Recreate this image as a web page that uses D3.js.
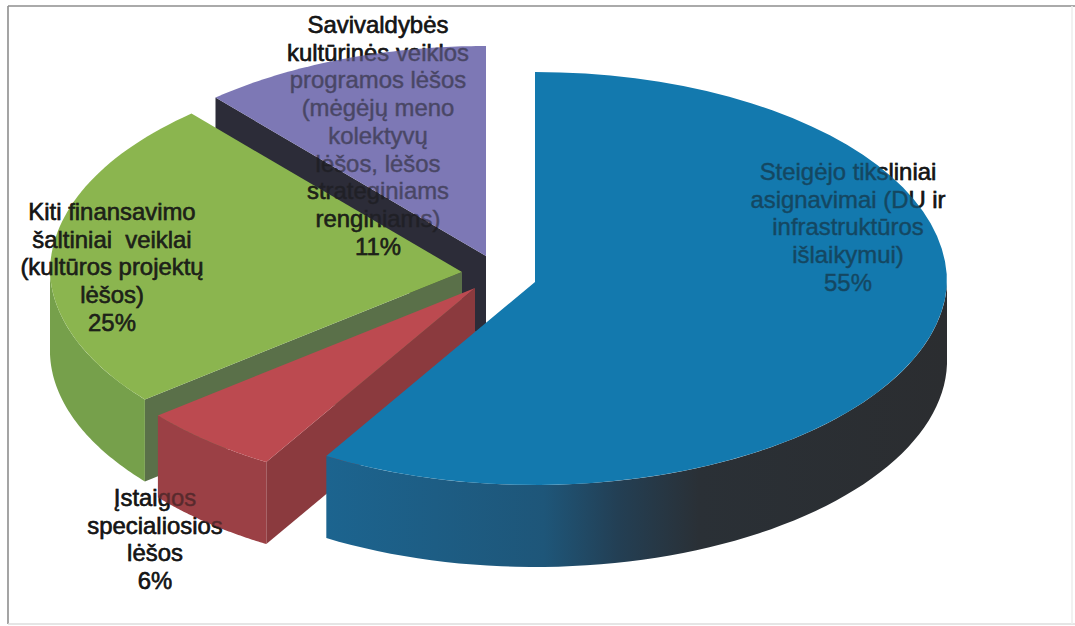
<!DOCTYPE html>
<html>
<head>
<meta charset="utf-8">
<script src="https://cdnjs.cloudflare.com/ajax/libs/d3/7.8.5/d3.min.js"></script>
<style>
  html, body { margin: 0; padding: 0; background: #fff; }
  svg { display: block; }
  text { font-family: "Liberation Sans", Arial, sans-serif; font-size: 23.9px; fill: #161616; stroke: #161616; stroke-width: .45px; text-anchor: middle; }
</style>
</head>
<body>
<svg id="pie" width="1075" height="626"></svg>
<script>
// Slice sizes as measured from the drawn pie. The printed labels add up to 97,
// the picture does not, so the printed text is kept apart in percentLabels
const categories = ["steigejo", "istaigos", "kiti", "savivaldybes"];
const sliceShares = [58.6, 5.6, 24.4, 11.4];
const percentLabels = ["55%", "6%", "25%", "11%"];
const labelLines = [
  ["Steigėjo tiksliniai", "asignavimai (DU ir", "infrastruktūros", "išlaikymui)"],
  ["Įstaigos", "specialiosios", "lėšos"],
  ["Kiti finansavimo", "šaltiniai  veiklai", "(kultūros projektų", "lėšos)"],
  ["Savivaldybės", "kultūrinės veiklos", "programos lėšos", "(mėgėjų meno", "kolektyvų", "lėšos, lėšos", "strateginiams", "renginiams)"]
];

// Colors and layout per slice
const topColors = ["#1379ae", "#bc4a50", "#8bb64f", "#7d78b5"];
const rimColors = ["url(#blueRim)", "#9b4045", "#76a04b", "#2c2c38"];
const cutColors = ["#1c648f", "#8b3a3e", "#5a7049", "#2c2c38"];
const apexX = [535, 475, 462, 486];
const apexY = [282, 288, 272, 256];
const labelX = [848, 155, 112, 378];
const labelY = [180, 506, 220, 33];
const lineStep = 27.7;

const rx = 412, ryBack = 210, ryFront = 203, depth = 82;

const svg = d3.select("#pie");
const width = +svg.attr("width");
const height = +svg.attr("height");

// Frame of the scanned page
const frame = svg.append("g").attr("fill", "none");
frame.append("line").attr("x1", 8).attr("x2", width).attr("y1", 6).attr("y2", 6).attr("stroke", "#8e8e8e").attr("stroke-width", 1.6);
frame.append("line").attr("x1", 8).attr("x2", 8).attr("y1", 6).attr("y2", 624).attr("stroke", "#8e8e8e").attr("stroke-width", 1.6);
frame.append("line").attr("x1", 8).attr("x2", width).attr("y1", 624).attr("y2", 624).attr("stroke", "#dcdcdc").attr("stroke-width", 1.6);
frame.append("line").attr("x1", 1072).attr("x2", 1072).attr("y1", 6).attr("y2", 624).attr("stroke", "#eeeeee").attr("stroke-width", 1.6);

const defs = svg.append("defs");
const blueRim = defs.append("linearGradient")
  .attr("id", "blueRim")
  .attr("gradientUnits", "userSpaceOnUse")
  .attr("x1", 327).attr("x2", 947).attr("y1", 0).attr("y2", 0);
[[0, "#1c648f"], [0.35, "#1e5679"], [0.47, "#233f54"], [0.6, "#2a3036"], [1, "#2b2d30"]].forEach(s => {
  blueRim.append("stop").attr("offset", s[0]).attr("stop-color", s[1]);
});

// Text goes under the pie at full strength; the same text is repeated over the
// pie much weaker, which gives the washed out look it has on the colored parts
svg.append("use").attr("href", "#labelText");

const pie = d3.pie().sort(null).value(d => d);
const arcs = pie(sliceShares);

// Tilted disc: unit circle to page, the near half a bit flatter
const xScale = d3.scaleLinear().domain([-1, 1]).range([-rx, rx]);
const yScale = d3.scaleLinear().domain([-1, 0, 1]).range([-ryBack, 0, ryFront]);
const point = (i, a, r, drop) => {
  const front = Math.max(0, -Math.cos(a));
  return [
    apexX[i] + xScale(r * Math.sin(a) * (1 - 0.018 * front)),
    apexY[i] + yScale(-r * Math.cos(a)) + drop
  ];
};
const line = d3.line();
const sweep = (a0, a1) => d3.range(0, 61).map(k => a0 + (a1 - a0) * k / 60);
const faceShape = d => line([point(d.index, 0, 0, 0)].concat(sweep(d.startAngle, d.endAngle).map(a => point(d.index, a, 1, 0)))) + "Z";

// Back to front
const order = [3, 2, 1, 0];
const g = svg.append("g");

order.forEach(i => {
  const d = arcs[i];

  // Cut side, only seen on the left half
  if (Math.sin(d.startAngle) < -0.001) {
    g.append("path")
      .attr("fill", cutColors[i])
      .attr("d", line([
        point(i, d.startAngle, 0, 0),
        point(i, d.startAngle, 1, 0),
        point(i, d.startAngle, 1, depth),
        point(i, d.startAngle, 0, depth)
      ]) + "Z");
  }

  // Outer rim, only the front half of the disc
  const a0 = Math.max(d.startAngle, Math.PI / 2);
  const a1 = Math.min(d.endAngle, 3 * Math.PI / 2);
  if (a1 > a0) {
    const angles = sweep(a0, a1);
    g.append("path")
      .attr("fill", rimColors[i])
      .attr("d", line(angles.map(a => point(i, a, 1, 0))
        .concat(angles.slice().reverse().map(a => point(i, a, 1, depth)))) + "Z");
  }

  // Top face
  g.append("path")
    .attr("fill", topColors[i])
    .attr("d", faceShape(d));
});

// On the green face the text stays nearly black
defs.append("clipPath").attr("id", "greenFace").append("path").attr("d", faceShape(arcs[2]));
svg.append("g")
  .attr("clip-path", "url(#greenFace)")
  .attr("opacity", 0.85)
  .append("use")
  .attr("href", "#labelText");

// Labels
const labels = svg.append("g")
  .attr("opacity", 0.5)
  .append("g")
  .attr("id", "labelText");

categories.forEach((c, i) => {
  const rows = labelLines[i].concat(percentLabels[i]);
  const t = labels.append("text").attr("class", c);
  t.selectAll("tspan")
    .data(rows)
    .enter()
    .append("tspan")
    .attr("x", labelX[i])
    .attr("y", (r, k) => labelY[i] + k * lineStep)
    .attr("xml:space", "preserve")
    .text(r => r);
});
</script>
</body>
</html>
